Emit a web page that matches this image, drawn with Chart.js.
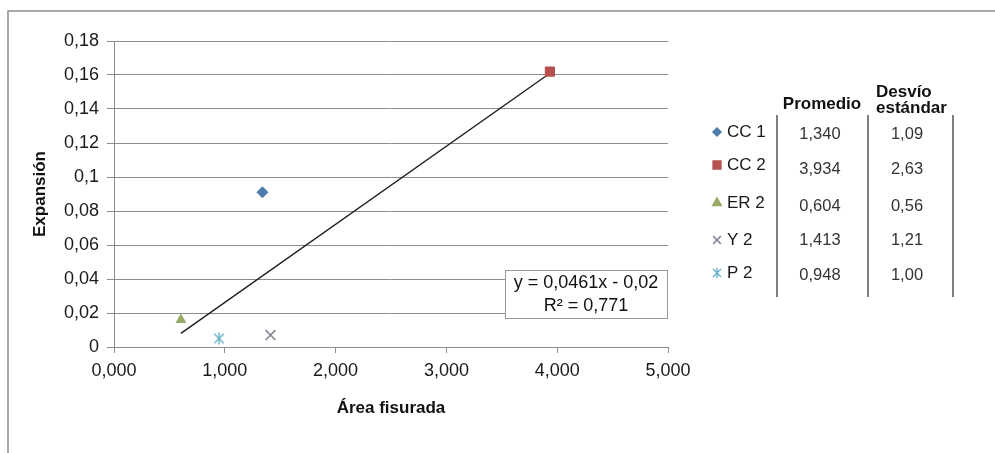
<!DOCTYPE html>
<html lang="es">
<head>
<meta charset="UTF-8">
<title>Expansión vs Área fisurada</title>
<script src="https://cdn.jsdelivr.net/npm/chart.js"></script>
<style>
    body {
        margin: 0;
        background: #fff;
    }
    #wrap {
        position: relative;
        width: 995px;
        height: 453px;
    }
</style>
</head>
<body>
<div id="wrap"><canvas id="chart"></canvas></div>
<script>
    // data
    const seriesNames = ['CC 1', 'CC 2', 'ER 2', 'Y 2', 'P 2'];
    const areaValues = [1.340, 3.934, 0.604, 1.413, 0.948];      // Promedio (x)
    const expansionValues = [0.091, 0.162, 0.016, 0.007, 0.005]; // Expansión (y)
    const desvioValues = [1.09, 2.63, 0.56, 1.21, 1.00];         // Desvío estándar
    const trendX = [0.604, 3.934];
    const trendY = [0.008, 0.161];
    const trendText = ['y = 0,0461x - 0,02', 'R² = 0,771'];
    const tableHeaders = ['Promedio', 'Desvío', 'estándar'];

    // styles
    const seriesColors = ['#4f7cac', '#b5504d', '#98aa66', '#8a8595', '#6db4c9'];
    const seriesMarkers = ['rectRot', 'rect', 'triangle', 'crossRot', 'asterisk'];
    const plotRadius = [5.5, 6.5, 5.5, 7, 6];
    const legendRadius = [4, 5.5, 5, 5.5, 5];

    const FONT = "'Liberation Sans', Arial, sans-serif";
    const GRID = '#8c8c8c';
    const comma = (v, d) => v.toFixed(d).replace('.', ',');

    // Excel style asterisk: an x with a vertical bar
    function asterisk(r, color) {
        const c = document.createElement('canvas');
        const s = Math.ceil(r * 2 + 4);
        c.width = s;
        c.height = s;
        const g = c.getContext('2d');
        const m = s / 2;
        const d = r * 0.8;
        g.strokeStyle = color;
        g.lineWidth = 1.5;
        g.beginPath();
        g.moveTo(m - d, m - d); g.lineTo(m + d, m + d);
        g.moveTo(m - d, m + d); g.lineTo(m + d, m - d);
        g.moveTo(m, m - r); g.lineTo(m, m + r);
        g.stroke();
        return c;
    }

    const markerFor = (i, r) => seriesMarkers[i] === 'asterisk' ? asterisk(r, seriesColors[i]) : seriesMarkers[i];

    const datasets = seriesNames.map((name, i) => ({
        label: name,
        data: [{ x: areaValues[i], y: expansionValues[i] }],
        pointStyle: markerFor(i, plotRadius[i]),
        pointRadius: plotRadius[i],
        pointHoverRadius: plotRadius[i],
        backgroundColor: seriesColors[i],
        borderColor: seriesColors[i],
        pointBorderWidth: (i > 2) ? 1.6 : 1,
        order: 0
    }));

    datasets.push({
        label: 'Lineal',
        data: trendX.map((x, i) => ({ x: x, y: trendY[i] })),
        showLine: true,
        pointRadius: 0,
        pointHoverRadius: 0,
        borderColor: '#1e1e1e',
        borderWidth: 1.4,
        order: 10
    });

    // frame, equation box and the legend table on the right
    const extrasPlugin = {
        id: 'extras',
        afterDraw(chart) {
            const ctx = chart.ctx;
            ctx.save();

            // outer frame (only top and left edges show in the original)
            ctx.strokeStyle = GRID;
            ctx.lineWidth = 1.5;
            ctx.beginPath();
            ctx.moveTo(8, 453);
            ctx.lineTo(8, 11);
            ctx.lineTo(995, 11);
            ctx.stroke();

            // trendline label
            ctx.fillStyle = '#fff';
            ctx.fillRect(505, 270, 162, 48);
            ctx.strokeStyle = '#999';
            ctx.lineWidth = 1;
            ctx.strokeRect(505.5, 270.5, 162, 48);
            ctx.fillStyle = '#111';
            ctx.font = '18px ' + FONT;
            ctx.textAlign = 'center';
            ctx.textBaseline = 'middle';
            ctx.fillText(trendText[0], 586, 283);
            ctx.fillText(trendText[1], 586, 306);

            // table headers
            ctx.font = 'bold 17px ' + FONT;
            ctx.fillText(tableHeaders[0], 822, 104);
            ctx.textAlign = 'left';
            ctx.fillText(tableHeaders[1], 876, 92);
            ctx.fillText(tableHeaders[2], 876, 108);

            // column rules
            ctx.strokeStyle = '#555';
            ctx.lineWidth = 1.5;
            [777, 868, 953].forEach(x => {
                ctx.beginPath();
                ctx.moveTo(x, 115);
                ctx.lineTo(x, 297);
                ctx.stroke();
            });

            const nameY = [132, 165, 203, 240, 273];
            const valueY = [134, 169, 206, 240, 275];
            seriesNames.forEach((name, i) => {
                ctx.fillStyle = seriesColors[i];
                ctx.strokeStyle = seriesColors[i];
                if (Chart.helpers && Chart.helpers.drawPoint) {
                    Chart.helpers.drawPoint(ctx, {
                        pointStyle: markerFor(i, legendRadius[i]),
                        radius: legendRadius[i],
                        rotation: 0,
                        borderWidth: (i > 2) ? 1.3 : 1
                    }, 717, nameY[i]);
                }
                ctx.fillStyle = '#1a1a1a';
                ctx.font = '17px ' + FONT;
                ctx.textAlign = 'left';
                ctx.fillText(name, 727, nameY[i]);
                ctx.fillStyle = '#333';
                ctx.font = '16.5px ' + FONT;
                ctx.textAlign = 'center';
                ctx.fillText(comma(areaValues[i], 3), 820, valueY[i]);
                ctx.fillText(comma(desvioValues[i], 2), 907, valueY[i]);
            });

            ctx.restore();
        }
    };

    new Chart(document.getElementById('chart'), {
        type: 'scatter',
        data: { datasets: datasets },
        plugins: [extrasPlugin],
        options: {
            responsive: true,
            maintainAspectRatio: false,
            animation: false,
            layout: {
                padding: { left: 20, top: 41, right: 327, bottom: 20 }
            },
            plugins: {
                legend: { display: false }
            },
            scales: {
                x: {
                    type: 'linear',
                    min: 0,
                    max: 5,
                    ticks: {
                        stepSize: 1,
                        maxRotation: 0,
                        padding: 7,
                        color: '#1a1a1a',
                        font: { family: FONT, size: 18 },
                        callback: v => comma(v, 3)
                    },
                    grid: {
                        drawOnChartArea: false,
                        tickLength: 6,
                        color: GRID
                    },
                    border: { color: GRID },
                    title: {
                        display: true,
                        text: 'Área fisurada',
                        color: '#111',
                        font: { family: FONT, size: 17, weight: 'bold' },
                        padding: { top: 0, bottom: 14 }
                    },
                    afterFit: s => { s.height = 86; }
                },
                y: {
                    min: 0,
                    max: 0.18,
                    ticks: {
                        stepSize: 0.02,
                        padding: 8,
                        color: '#1a1a1a',
                        font: { family: FONT, size: 18 },
                        callback: v => String(Math.round(v * 100) / 100).replace('.', ',')
                    },
                    grid: {
                        tickLength: 7,
                        color: GRID
                    },
                    border: { color: GRID },
                    title: {
                        display: true,
                        text: 'Expansión',
                        color: '#111',
                        font: { family: FONT, size: 17, weight: 'bold' },
                        padding: { top: 10, bottom: 0 }
                    },
                    afterFit: s => { s.width = 94; }
                }
            }
        }
    });
</script>
</body>
</html>
